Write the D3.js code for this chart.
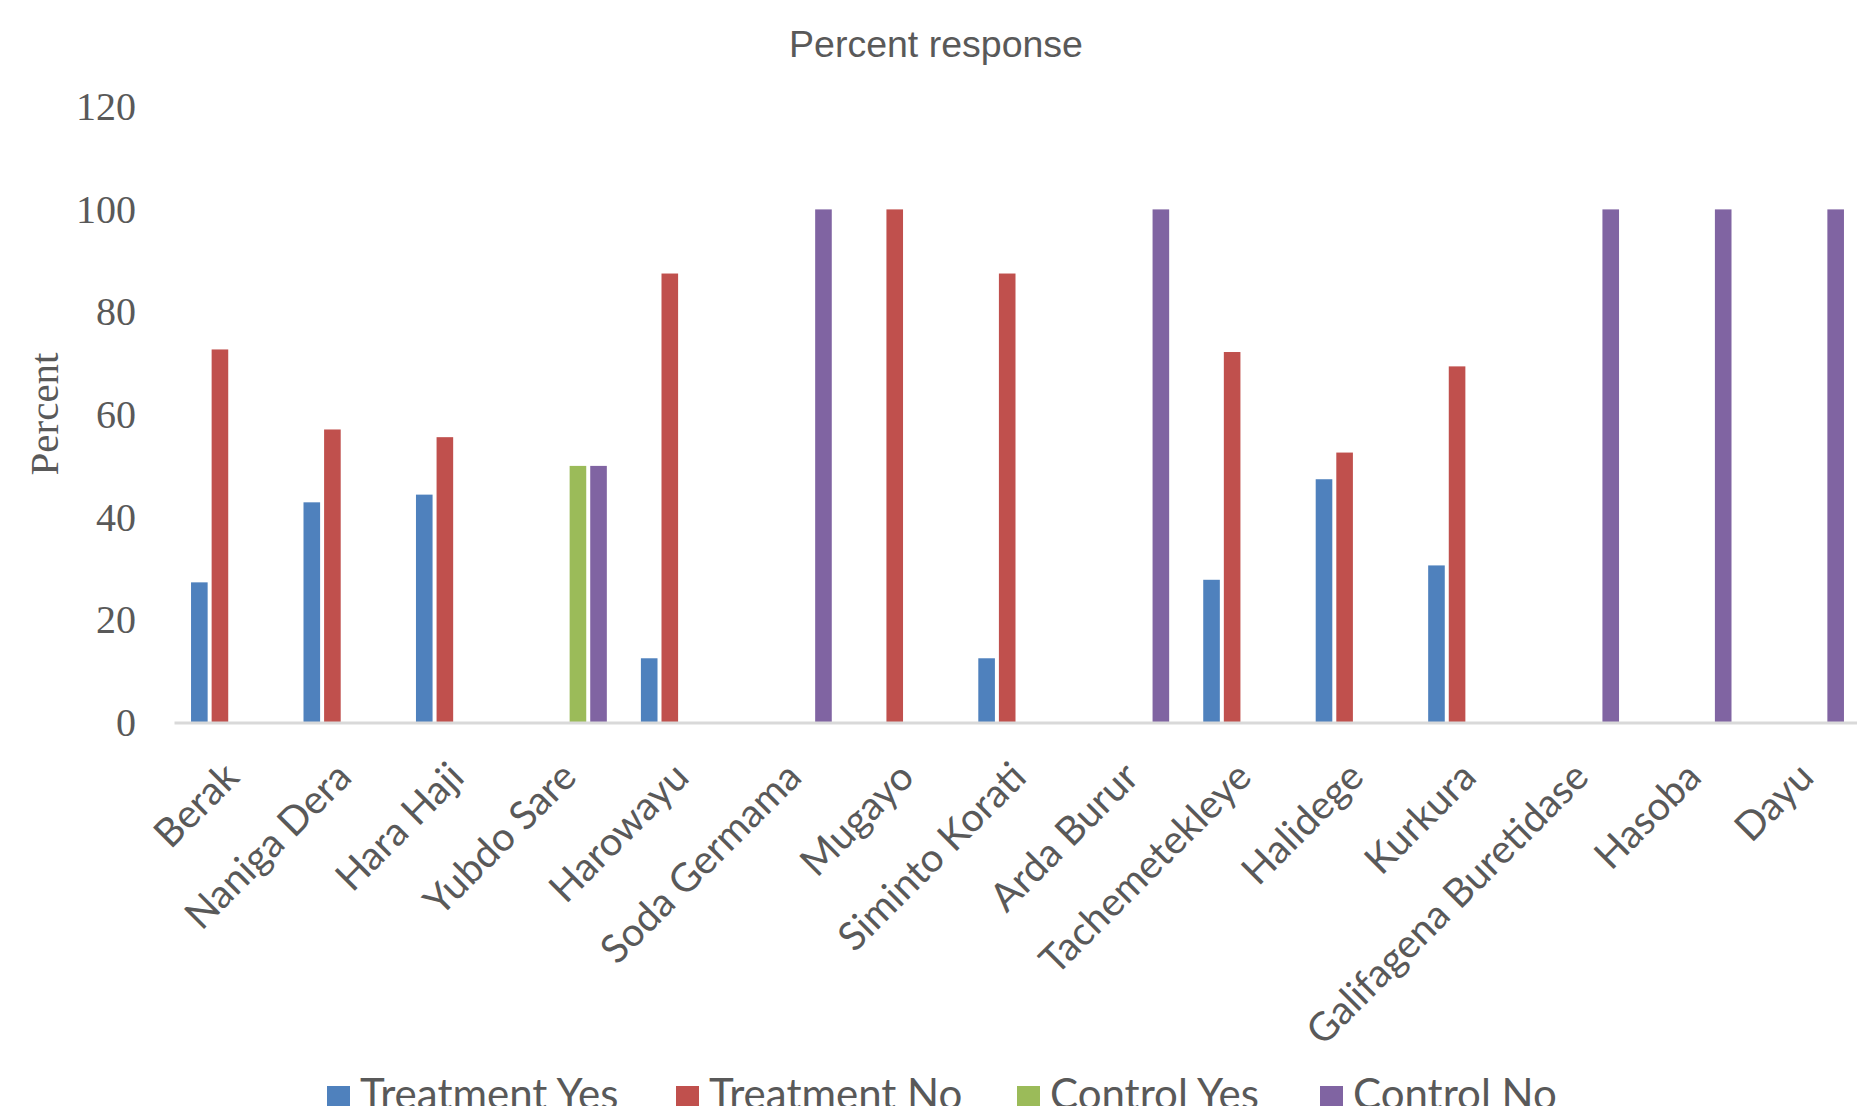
<!DOCTYPE html>
<html>
<head>
<meta charset="utf-8">
<script src="https://cdn.jsdelivr.net/npm/d3@7"></script>
<style>
  html, body { margin: 0; padding: 0; background: #ffffff; }
  svg { display: block; }
</style>
</head>
<body>
<svg id="chart" width="1857" height="1106"></svg>
<script>
// Villages on the category axis
const categories = [
  "Berak", "Naniga Dera", "Hara Haji", "Yubdo Sare", "Harowayu",
  "Soda Germama", "Mugayo", "Siminto Korati", "Arda Burur", "Tachemetekleye",
  "Halidege", "Kurkura", "Galifagena Buretidase", "Hasoba", "Dayu"
];

// Percent response per village (null = no bar)
const treatmentYes = [27.3, 42.9, 44.4, null, 12.5, null, null, 12.5, null, 27.8, 47.4, 30.6, null, null, null];
const treatmentNo  = [72.7, 57.1, 55.6, null, 87.5, null, 100, 87.5, null, 72.2, 52.6, 69.4, null, null, null];
const controlYes   = [null, null, null, 50, null, null, null, null, null, null, null, null, null, null, null];
const controlNo    = [null, null, null, 50, null, 100, null, null, 100, null, null, null, 100, 100, 100];

const seriesNames = ["Treatment Yes", "Treatment No", "Control Yes", "Control No"];
const seriesValues = [treatmentYes, treatmentNo, controlYes, controlNo];
const seriesColors = ["#4F81BD", "#C0504D", "#9BBB59", "#8064A2"];

const yTicks = [0, 20, 40, 60, 80, 100, 120];

const svg = d3.select("#chart");

const plotLeft = 174, plotRight = 1861, plotTop = 106.8, plotBottom = 722.4;

const x0 = d3.scaleBand().domain(categories).range([plotLeft, plotRight]).padding(0);
const groupW = 78.4;
const x1 = d3.scaleBand()
  .domain(seriesNames)
  .range([(x0.bandwidth() - groupW) / 2, (x0.bandwidth() + groupW) / 2])
  .paddingInner(0.194)
  .paddingOuter(0);
const y = d3.scaleLinear().domain([0, 120]).range([plotBottom, plotTop]);

// Title
svg.append("text")
  .attr("x", 936).attr("y", 57)
  .attr("text-anchor", "middle")
  .attr("font-family", "'Liberation Sans', Arial, sans-serif")
  .attr("font-size", 37.5)
  .attr("fill", "#595959")
  .text("Percent response");

// Y axis (labels only)
const yAxis = svg.append("g")
  .attr("transform", `translate(${plotLeft},0)`)
  .call(d3.axisLeft(y).tickValues(yTicks).tickSize(0).tickPadding(38));
yAxis.select(".domain").remove();
yAxis.selectAll("text")
  .attr("font-family", "'Liberation Serif', 'Times New Roman', serif")
  .attr("font-size", 40)
  .attr("fill", "#595959");

// Y axis title
svg.append("text")
  .attr("transform", "translate(44,414) rotate(-90)")
  .attr("text-anchor", "middle")
  .attr("dominant-baseline", "central")
  .attr("font-family", "'Liberation Serif', 'Times New Roman', serif")
  .attr("font-size", 41)
  .attr("fill", "#595959")
  .text("Percent");

// Bars
const groups = svg.append("g").selectAll("g")
  .data(categories)
  .join("g")
  .attr("transform", d => `translate(${x0(d)},0)`);

groups.selectAll("rect")
  .data((d, i) => seriesNames.map((s, k) => ({ s, k, v: seriesValues[k][i] })).filter(e => e.v != null))
  .join("rect")
  .attr("x", e => x1(e.s))
  .attr("width", x1.bandwidth())
  .attr("y", e => y(e.v))
  .attr("height", e => y(0) - y(e.v))
  .attr("fill", e => seriesColors[e.k]);

// X axis line and rotated labels
const xAxis = svg.append("g")
  .attr("transform", `translate(0,${plotBottom})`)
  .call(d3.axisBottom(x0).tickSize(0).tickSizeOuter(0).tickPadding(0));
xAxis.select(".domain")
  .attr("stroke", "#D9D9D9")
  .attr("stroke-width", 3);
xAxis.selectAll(".tick text")
  .attr("font-family", "Lato, 'Open Sans', sans-serif")
  .attr("font-size", 39.5)
  .attr("fill", "#595959")
  .attr("text-anchor", "end")
  .attr("dy", null)
  .attr("y", null)
  .attr("dominant-baseline", "central")
  .attr("transform", "translate(0,46) rotate(-45)");

// Legend
const legendX = [327, 676, 1017, 1320];
const legend = svg.append("g").selectAll("g")
  .data(seriesNames)
  .join("g")
  .attr("transform", (d, i) => `translate(${legendX[i]},0)`);
legend.append("rect")
  .attr("x", 0).attr("y", 1086)
  .attr("width", 23).attr("height", 23)
  .attr("fill", (d, i) => seriesColors[i]);
legend.append("text")
  .attr("x", 33).attr("y", 1109)
  .attr("font-family", "Lato, 'Open Sans', sans-serif")
  .attr("font-size", 42)
  .attr("fill", "#595959")
  .text(d => d);
</script>
</body>
</html>
